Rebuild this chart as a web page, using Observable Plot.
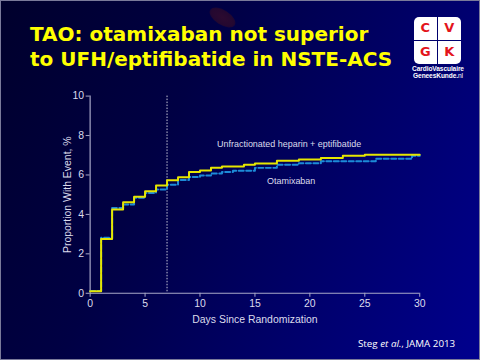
<!DOCTYPE html>
<html>
<head>
<meta charset="utf-8">
<script src="https://cdn.jsdelivr.net/npm/d3@7"></script>
<script src="https://cdn.jsdelivr.net/npm/@observablehq/plot@0.6"></script>
<style>
  html, body { margin: 0; padding: 0; background: #000040; }
  #slide {
    position: relative; width: 480px; height: 360px; overflow: hidden; box-sizing: border-box;
    border: 1px solid #7a7a9a;
    background: linear-gradient(115deg, #00002c 0%, #000044 35%, #00006c 70%, #00008e 100%);
    font-family: "Liberation Sans", Arial, sans-serif;
  }
  #cell { position: absolute; left: 207px; top: 9px; width: 29px; height: 15px; border-radius: 50%;
    background: radial-gradient(ellipse at center, #2c0a30 0%, #240830 60%, rgba(20,5,45,0) 100%);
    transform: rotate(32deg); }
  #title { position: absolute; left: 29px; top: 21px; color: #ffff00; font-family: "DejaVu Sans", Verdana, sans-serif;
    font-weight: bold; font-size: 20px; line-height: 24.5px; white-space: nowrap; letter-spacing: 0px; }
  #logo { position: absolute; left: 413px; top: 16px; width: 48px; }
  #logo .grid { position: relative; width: 47px; height: 47px; }
  #logo .c { position: absolute; width: 22.5px; height: 22.5px; background: #ffffff; color: #e3141b;
    font-family: "DejaVu Sans", Verdana, sans-serif; font-weight: bold; font-size: 13px; line-height: 22.5px; text-align: center; }
  #logo .t { color: #ffffff; font-family: "Liberation Sans", sans-serif; font-size: 6.6px; line-height: 7px;
    text-align: center; font-weight: bold; letter-spacing: -0.1px; margin-top: 1px; white-space: nowrap; margin-left: -2px; margin-right: -2px; }
  #chart { position: absolute; left: 0; top: 0; }
  #cite { position: absolute; left: 357px; top: 336px; color: #ffffff; font-family: "Open Sans", "Liberation Sans", sans-serif;
    font-size: 9.8px; white-space: nowrap; }
</style>
</head>
<body>
<div id="slide">
  <div id="cell"></div>
  <div id="title">TAO: otamixaban not superior<br>to UFH/eptifibatide in NSTE-ACS</div>
  <div id="logo">
    <div class="grid">
      <div class="c" style="left:0;top:0;border-top-left-radius:5px;">C</div>
      <div class="c" style="left:24px;top:0;border-top-right-radius:5px;">V</div>
      <div class="c" style="left:0;top:24px;border-bottom-left-radius:5px;">G</div>
      <div class="c" style="left:24px;top:24px;border-bottom-right-radius:5px;">K</div>
    </div>
    <div class="t">CardioVasculaire<br>GeneesKunde.<span style="font-weight:normal">nl</span></div>
  </div>
  <div id="chart"></div>
  <div id="cite">Steg <i>et al.</i>, JAMA 2013</div>
</div>
<script>
// Data
const ufhDays   = [0, 1, 2, 3, 4, 5, 6, 7, 8, 9, 10, 11, 12, 14, 15, 17, 19, 21, 23, 25, 30];
const ufhValues = [0.1, 2.75, 4.25, 4.62, 4.9, 5.18, 5.47, 5.73, 5.88, 6.15, 6.23, 6.37, 6.43, 6.52, 6.58, 6.72, 6.79, 6.86, 6.97, 7.03, 7.03];
const otaDays   = [0, 1, 2, 3, 4, 5, 6, 7, 8, 9, 10, 11, 12, 13, 15, 17, 19, 21, 26, 29.3, 30];
const otaValues = [0.12, 2.82, 4.32, 4.5, 4.84, 5.09, 5.26, 5.5, 5.75, 5.9, 5.97, 6.07, 6.15, 6.22, 6.36, 6.52, 6.6, 6.7, 6.82, 6.98, 6.98];
const landmarkDay = [7];
const xTicks = [0, 5, 10, 15, 20, 25, 30];
const yTicks = [0, 2, 4, 6, 8, 10];
const seriesLabels = ["Unfractionated heparin + eptifibatide", "Otamixaban"];
const labelDays = [11.55, 16.1];
const labelValues = [7.54, 5.67];

const ufh = ufhDays.map((d, i) => ({day: d, value: ufhValues[i]}));
const ota = otaDays.map((d, i) => ({day: d, value: otaValues[i]}));
const labels = seriesLabels.map((t, i) => ({text: t, day: labelDays[i], value: labelValues[i]}));

const axisColor = "#a8a8c8";
const textColor = "#dcdcec";

const chart = Plot.plot({
  width: 480,
  height: 360,
  marginLeft: 89,
  marginRight: 60,
  marginTop: 95,
  marginBottom: 67,
  style: {background: "transparent", color: textColor, fontFamily: "Liberation Sans, Arial, sans-serif", fontSize: "10.5px"},
  x: {domain: [0, 30]},
  y: {domain: [0, 10]},
  marks: [
    Plot.axisX({ticks: xTicks, tickSize: 4, tickPadding: 2, stroke: axisColor, color: textColor,
      label: "Days Since Randomization", labelAnchor: "center", labelOffset: 30, labelArrow: "none", fontSize: 10.5}),
    Plot.axisY({ticks: yTicks, tickSize: 4, tickPadding: 2, stroke: axisColor, color: textColor,
      label: "Proportion With Event, %", labelAnchor: "center", labelOffset: 27, labelArrow: "none", fontSize: 10.5}),
    Plot.ruleX([0], {stroke: axisColor, strokeWidth: 1.2}),
    Plot.ruleY([0], {stroke: axisColor, strokeWidth: 1.2}),
    Plot.ruleX(landmarkDay, {stroke: "#c8c8d8", strokeWidth: 1, strokeDasharray: "1.5,1.5"}),
    Plot.line(ota, {x: "day", y: "value", curve: "step-after", stroke: "#1c8ad8", strokeWidth: 2, strokeDasharray: "5,2.5"}),
    Plot.line(ufh, {x: "day", y: "value", curve: "step-after", stroke: "#e6e600", strokeWidth: 2}),
    Plot.text(labels, {x: "day", y: "value", text: "text", textAnchor: "start", fill: textColor, fontSize: 9})
  ]
});
document.getElementById("chart").appendChild(chart);
</script>
</body>
</html>
